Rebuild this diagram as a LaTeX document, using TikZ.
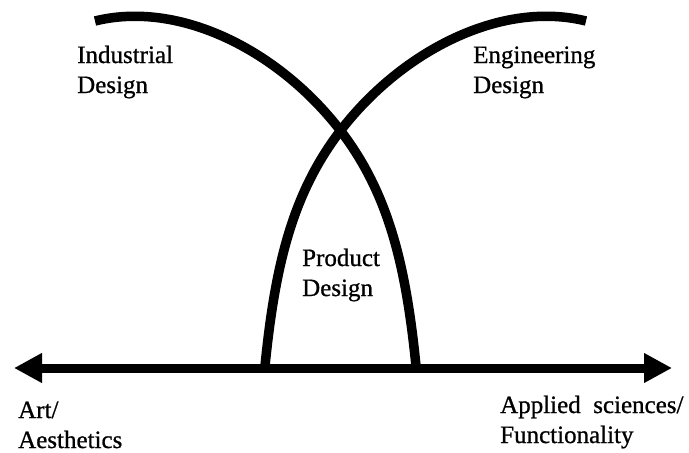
\documentclass[tikz,border=0pt]{standalone}
\usepackage{fontspec}
\setmainfont{Liberation Serif}
\newfontfamily\labelfont{Liberation Serif}[FakeBold=0.8]
\usetikzlibrary{arrows.meta}
\begin{document}
\begin{tikzpicture}[x=1pt,y=-1pt,
  axisline/.style={line width=9pt,{Triangle[length=28pt,width=28pt]}-{Triangle[length=28pt,width=28pt]}},
  field/.style={line width=9.5pt,line cap=butt},
  label/.style={inner sep=0pt,anchor=base west,align=left,font=\labelfont\fontsize{25}{30}\selectfont}]
\useasboundingbox (0,0) rectangle (689,453);
\fill[white] (0,0) rectangle (689,453);
% axis ends
\coordinate (artend) at (14,368);
\coordinate (sciend) at (672,368);
\draw[axisline] (artend) -- (sciend);
% industrial design arc
\coordinate (indtop) at (95,21);
\coordinate (indcross) at (340,130);
\coordinate (indfoot) at (416,366);
\draw[field] (indtop) .. controls (180,0) and (279,51) .. (indcross)
                      .. controls (388.8,193.2) and (406,266) .. (indfoot);
% engineering design arc (mirror image about x = 340.5)
\coordinate (engtop) at (586,21);
\coordinate (engcross) at (341,130);
\coordinate (engfoot) at (265,366);
\draw[field] (engtop) .. controls (501,0) and (402,51) .. (engcross)
                      .. controls (292.2,193.2) and (275,266) .. (engfoot);
% labels (anchored at the baseline of the last line)
\node[label] (ind) at (77,93) {Industrial\\Design};
\node[label] (eng) at (473,93) {Engineering\\Design};
\node[label] (prod) at (302,296) {Product\\Design};
\node[label] (art) at (18,448) {Art/\\Aesthetics};
\node[label] (sci) at (500,443) {Applied\ \ sciences/\\Functionality};
\end{tikzpicture}
\end{document}
